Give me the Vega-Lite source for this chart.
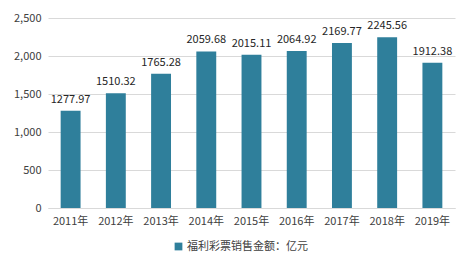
{
  "$schema": "https://vega.github.io/schema/vega-lite/v6.json",
  "autosize": "none",
  "width": 407,
  "height": 190,
  "padding": {"left": 48, "top": 18, "right": 19, "bottom": 61},
  "background": "white",
  "data": {"values": [
    {"year": "2011年", "value": 1277.97, "series": "福利彩票销售金额：亿元"},
    {"year": "2012年", "value": 1510.32, "series": "福利彩票销售金额：亿元"},
    {"year": "2013年", "value": 1765.28, "series": "福利彩票销售金额：亿元"},
    {"year": "2014年", "value": 2059.68, "series": "福利彩票销售金额：亿元"},
    {"year": "2015年", "value": 2015.11, "series": "福利彩票销售金额：亿元"},
    {"year": "2016年", "value": 2064.92, "series": "福利彩票销售金额：亿元"},
    {"year": "2017年", "value": 2169.77, "series": "福利彩票销售金额：亿元"},
    {"year": "2018年", "value": 2245.56, "series": "福利彩票销售金额：亿元"},
    {"year": "2019年", "value": 1912.38, "series": "福利彩票销售金额：亿元"}
  ]},
  "encoding": {
    "x": {"field": "year", "type": "nominal", "sort": null,
      "scale": {"paddingInner": 0.56, "paddingOuter": 0.28},
      "axis": {"title": null, "labelAngle": 0, "ticks": false, "domainColor": "#D9D9D9", "labelPadding": 7, "labelFont": "Noto Sans CJK SC", "labelFontSize": 11, "labelColor": "#404040"}},
    "y": {"field": "value", "type": "quantitative",
      "scale": {"domain": [0, 2500], "nice": false},
      "axis": {"title": null, "values": [0, 500, 1000, 1500, 2000, 2500], "format": ",.0f", "domain": false, "ticks": false, "gridColor": "#D9D9D9", "labelPadding": 7, "labelFont": "Noto Sans CJK SC", "labelFontSize": 11, "labelColor": "#404040"}}
  },
  "layer": [
    {"mark": {"type": "bar"},
     "encoding": {"color": {"field": "series", "type": "nominal",
       "scale": {"range": ["#2F7F9B"]},
       "legend": {"title": null, "orient": "none", "legendX": 125, "legendY": 223, "symbolType": "square", "symbolSize": 60, "labelFont": "Noto Sans CJK SC", "labelFontSize": 11, "labelColor": "#404040", "labelOffset": 3}}}},
    {"mark": {"type": "text", "baseline": "bottom", "dy": -6, "font": "Noto Sans CJK SC", "fontSize": 11, "color": "#262626"},
     "encoding": {"text": {"field": "value", "type": "quantitative", "format": ".2f"}}}
  ],
  "config": {"view": {"stroke": null}}
}
